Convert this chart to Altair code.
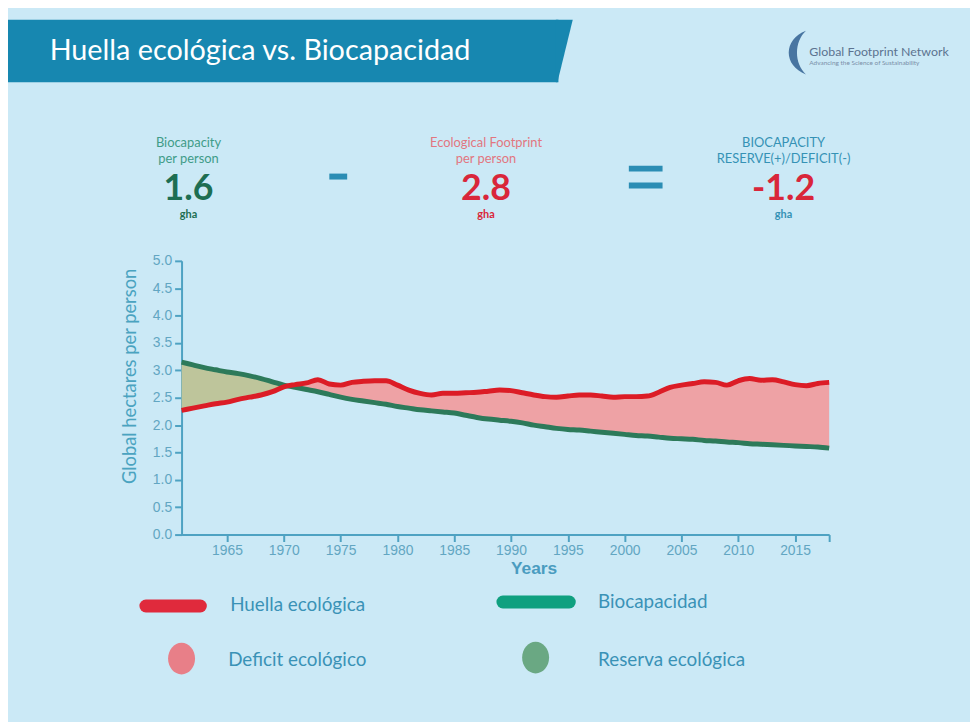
import altair as alt
import pandas as pd

# ---------------- data ----------------
years = list(range(1961, 2019))
footprint = [2.27, 2.31, 2.35, 2.39, 2.42, 2.47, 2.51, 2.55, 2.61, 2.70,
             2.74, 2.77, 2.83, 2.75, 2.73, 2.78, 2.80, 2.81, 2.81, 2.73,
             2.64, 2.58, 2.55, 2.58, 2.58, 2.59, 2.60, 2.62, 2.64, 2.63,
             2.59, 2.55, 2.52, 2.51, 2.53, 2.55, 2.55, 2.53, 2.51, 2.52,
             2.52, 2.53, 2.60, 2.69, 2.73, 2.76, 2.79, 2.78, 2.73, 2.81,
             2.85, 2.82, 2.83, 2.79, 2.74, 2.72, 2.76, 2.78]
biocapacity = [3.15, 3.10, 3.05, 3.01, 2.97, 2.94, 2.90, 2.85, 2.79, 2.73,
               2.69, 2.65, 2.61, 2.56, 2.51, 2.47, 2.44, 2.41, 2.38, 2.34,
               2.31, 2.28, 2.26, 2.24, 2.22, 2.18, 2.14, 2.11, 2.09, 2.07,
               2.04, 2.00, 1.97, 1.94, 1.92, 1.91, 1.89, 1.87, 1.85, 1.83,
               1.81, 1.80, 1.78, 1.76, 1.75, 1.74, 1.72, 1.71, 1.69, 1.68,
               1.66, 1.65, 1.64, 1.63, 1.62, 1.61, 1.60, 1.58]
stat_values = ["1.6", "2.8", "-1.2"]
stat_labels = [["Biocapacity", "per person"],
               ["Ecological Footprint", "per person"],
               ["BIOCAPACITY", "RESERVE(+)/DEFICIT(-)"]]
legend_labels = ["Huella ecológica", "Biocapacidad", "Deficit ecológico", "Reserva ecológica"]
x_tick_values = [1965, 1970, 1975, 1980, 1985, 1990, 1995, 2000, 2005, 2010, 2015, 2018]
y_tick_values = [0.0, 0.5, 1.0, 1.5, 2.0, 2.5, 3.0, 3.5, 4.0, 4.5, 5.0]

df = pd.DataFrame({"year": years, "foot": footprint, "bio": biocapacity})

# ---------------- layout ----------------
PX0, PY0 = 183, 260          # page position of plot origin
W, H = 653, 276
TOTAL_W, TOTAL_H = 970, 714
BG = "#cbe9f6"
AXIS_C = "#4ea2c2"
TEAL = "#3a92b6"
one = pd.DataFrame({"k": [0]})


def px(v):
    return alt.value(v - PX0)


def py(v):
    return alt.value(v - PY0)


def txt(s, x, y, size, color, weight="normal", align="center", font="Lato"):
    return alt.Chart(one).mark_text(
        text=s, fontSize=size, color=color, fontWeight=weight, align=align,
        baseline="middle", font=font
    ).encode(x=px(x), y=py(y))


X = alt.X("year:Q", scale=alt.Scale(domain=[1961, 2018], nice=False, zero=False),
          axis=alt.Axis(title="Years", values=x_tick_values, format="d",
                        labelExpr="datum.value == 2018 ? '' : datum.label",
                        grid=False, domainColor=AXIS_C, domainWidth=2,
                        tickColor=AXIS_C, tickWidth=2, tickSize=7,
                        labelColor="#62a6c2", labelFontSize=14, labelFont="Liberation Sans",
                        labelPadding=2,
                        titleColor="#4a9cc0", titleFontSize=17.5, titleFontWeight="bold",
                        titleFont="Liberation Sans", titleX=538 - PX0, titleY=34,
                        titleBaseline="middle", titleAlign="center"))


def Y(field):
    return alt.Y(f"{field}:Q", scale=alt.Scale(domain=[0, 5], nice=False),
                 axis=alt.Axis(title="Global hectares per person", values=y_tick_values,
                               format=".1f", grid=False, domainColor=AXIS_C, domainWidth=2,
                               tickColor=AXIS_C, tickWidth=2, tickSize=7,
                               labelColor="#62a6c2", labelFontSize=14,
                               labelFont="Liberation Sans", labelPadding=3,
                               titleColor="#4aa3c0", titleFontSize=18.5, titleFont="Lato",
                               titleFontWeight="normal", titleX=131 - PX0, titleY=376 - PY0,
                               titleAngle=-90, titleAlign="center", titleBaseline="middle"))


base = alt.Chart(df)

reserve = base.transform_calculate(top="max(datum.bio, datum.foot)").mark_area(
    color="#bec59b", opacity=1, interpolate="monotone"
).encode(x=X, y=Y("foot"), y2="top:Q")

deficit = base.transform_calculate(top="max(datum.foot, datum.bio)").mark_area(
    color="#eea2a5", opacity=1, interpolate="monotone"
).encode(x=X, y=Y("bio"), y2="top:Q")

bio_line = base.mark_line(color="#2d7a5a", strokeWidth=5, interpolate="monotone").encode(
    x=X, y=Y("bio"))
foot_line = base.mark_line(color="#dc1c26", strokeWidth=5, interpolate="monotone").encode(
    x=X, y=Y("foot"))

# ---------------- header ----------------
banner_rect = alt.Chart(one).mark_rect(color="#1787b0").encode(
    x=px(8), x2=px(563), y=py(17), y2=py(80))
banner_slant = alt.Chart(one).mark_point(
    shape="M-0.05,-1 L0.49,-1 L0,1 L-0.05,1 Z", size=63 * 63, filled=True,
    color="#1787b0", opacity=1, strokeWidth=0
).encode(x=px(562), y=py(48.5))
title = txt("Huella ecológica vs. Biocapacidad", 50, 48, 29, "#ffffff", align="left")

logo_icon = alt.Chart(one).mark_point(
    shape="M0.3,-1 C-0.75,-0.6 -0.75,0.6 0.3,1 C-0.25,0.5 -0.25,-0.5 0.3,-1 Z",
    size=44 * 44, filled=True, color="#3a6898", opacity=0.9, strokeWidth=0
).encode(x=px(806), y=py(50))
logo1 = txt("Global Footprint Network", 816, 49, 12.5, "#5c7390", align="left")
logo2 = txt("Advancing the Science of Sustainability", 816, 61, 6.5, "#7a8fa8", align="left")

# ---------------- stats row ----------------
stat_x = [190, 490, 790]
label_colors = ["#3f9c88", "#e27680", "#3592b5"]
value_colors = ["#1d6e52", "#d9263a", "#d9263a"]
unit_colors = ["#1d6e52", "#d9263a", "#3592b5"]
stats = []
for i in range(3):
    stats.append(txt(stat_labels[i][0], stat_x[i], 141, 13, label_colors[i]))
    stats.append(txt(stat_labels[i][1], stat_x[i], 157, 13, label_colors[i]))
    stats.append(txt(stat_values[i], stat_x[i], 188, 36, value_colors[i], weight="bold"))
    stats.append(txt("gha", stat_x[i], 214, 11, unit_colors[i], weight="bold"))

minus = alt.Chart(one).mark_rect(color="#2b8db4").encode(
    x=px(332), x2=px(350), y=py(172), y2=py(178))
eq1 = alt.Chart(one).mark_rect(color="#2b8db4").encode(
    x=px(634), x2=px(668), y=py(164), y2=py(170))
eq2 = alt.Chart(one).mark_rect(color="#2b8db4").encode(
    x=px(634), x2=px(668), y=py(181), y2=py(187))

# ---------------- legend ----------------
ellipse = "M0,-1 A0.85,1 0 1,1 0,1 A0.85,1 0 1,1 0,-1 Z"
leg = [
    alt.Chart(one).mark_rule(color="#e02a3c", strokeWidth=13, strokeCap="round").encode(
        x=px(147), x2=px(202), y=py(608)),
    txt(legend_labels[0], 232, 607, 19, TEAL, align="left"),
    alt.Chart(one).mark_rule(color="#0fa07f", strokeWidth=13, strokeCap="round").encode(
        x=px(507), x2=px(574), y=py(604)),
    txt(legend_labels[1], 603, 604, 19, TEAL, align="left"),
    alt.Chart(one).mark_point(shape=ellipse, size=32 * 32, filled=True, color="#e87f88",
                              opacity=1, strokeWidth=0).encode(x=px(183), y=py(661)),
    txt(legend_labels[2], 230, 663, 19, TEAL, align="left"),
    alt.Chart(one).mark_point(shape=ellipse, size=32 * 32, filled=True, color="#6aa883",
                              opacity=1, strokeWidth=0).encode(x=px(540), y=py(660)),
    txt(legend_labels[3], 603, 662, 19, TEAL, align="left"),
]

chart = alt.layer(
    reserve, deficit, bio_line, foot_line,
    banner_rect, banner_slant, title, logo_icon, logo1, logo2,
    *stats, minus, eq1, eq2, *leg
).properties(
    width=W, height=H,
    background=BG,
    autosize=alt.AutoSizeParams(type="none"),
    padding={"left": PX0 - 8, "top": PY0 - 8, "right": TOTAL_W - (PX0 - 8) - W,
             "bottom": TOTAL_H - (PY0 - 8) - H},
).configure_view(strokeWidth=0, strokeOpacity=0)

chart.save("out.html", embed_options={"renderer": "svg", "actions": False})
